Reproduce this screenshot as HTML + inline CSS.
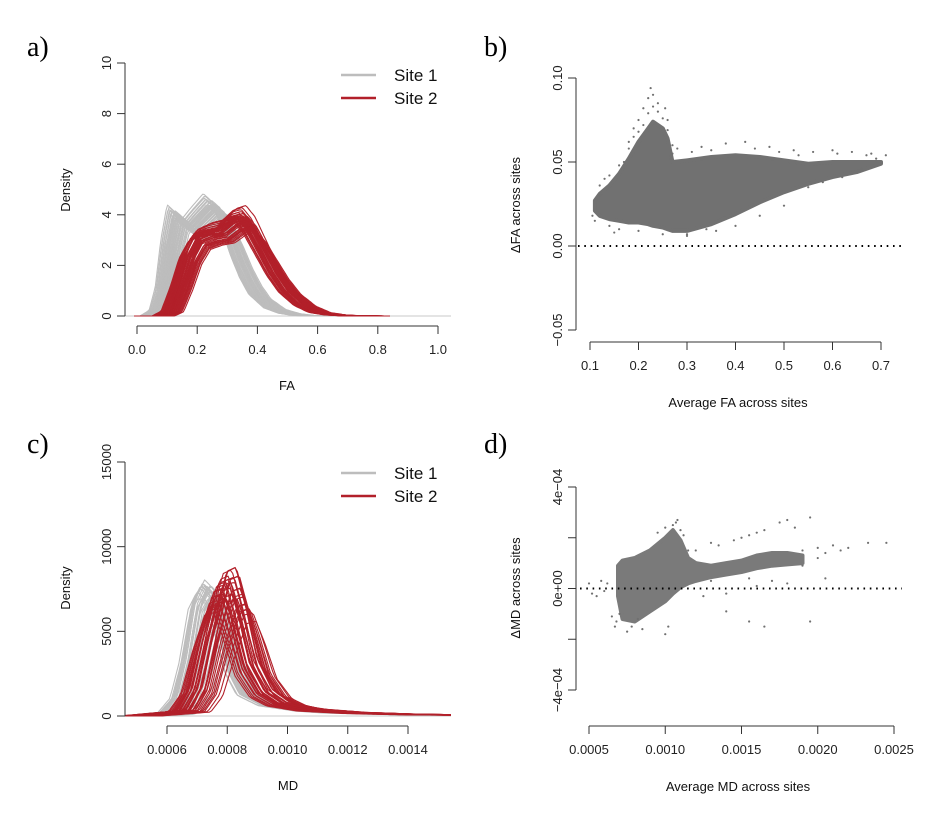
<!DOCTYPE html>
<html><head><meta charset="utf-8"><style>
body{margin:0;background:#fff;}
svg{display:block;font-family:"Liberation Sans",sans-serif;}
.tk{font-size:13px;fill:#222;}
.ttl{font-size:13px;fill:#111;}
.pl{font-family:"Liberation Serif",serif;font-size:28px;fill:#000;}
.lg{font-size:17px;fill:#111;}
</style></head><body>
<svg id="fig" width="949" height="816" viewBox="0 0 949 816">
<text class="pl" x="27" y="56">a)</text>
<text class="pl" x="484" y="56">b)</text>
<text class="pl" x="27" y="453">c)</text>
<text class="pl" x="484" y="453">d)</text>
</svg>
<script>
// ---- Panel a data (FA densities) ----
const faSite1X=[0.04,0.07,0.09,0.11,0.13,0.15,0.18,0.21,0.25,0.28,0.31,0.34,0.37,0.40,0.45,0.50,0.55,0.60];
const faSite1Y=[0,0.2,1.0,2.8,4.0,3.8,3.5,3.9,4.4,4.1,3.2,2.2,1.4,0.8,0.3,0.1,0.02,0];
const faSite2X=[0.08,0.11,0.14,0.17,0.20,0.24,0.28,0.32,0.35,0.38,0.42,0.46,0.50,0.55,0.60,0.65,0.70,0.80];
const faSite2Y=[0,0.2,1.2,2.4,3.1,3.3,3.4,3.8,3.9,3.5,2.6,1.7,1.0,0.45,0.15,0.05,0.01,0];
const faShift1=[-0.03,-0.027,-0.025,-0.022,-0.02,-0.018,-0.016,-0.015,-0.013,-0.012,-0.01,-0.009,-0.008,-0.006,-0.005,-0.004,-0.003,-0.002,0,0.001,0.002,0.003,0.004,0.005,0.006,0.007,0.008,0.009,0.01,0.011,0.012,0.013,0.014,0.015,0.016,0.018,0.02,0.022,0.024,0.025,0.027,0.028,0.03,0.032,0.035,0.038,0.04,0.045];
const faScale1=[1.1,1.06,1.08,1.05,1.05,1.0,1.04,1.03,0.99,0.98,1.02,1.0,1.0,0.96,0.97,1.03,1.04,0.98,1.0,1.01,0.95,0.99,0.99,1.0,1.01,0.97,0.96,0.98,1.0,0.95,0.94,0.97,0.96,0.98,0.93,0.93,0.97,0.95,0.92,0.92,0.91,0.94,0.9,0.9,0.88,0.87,0.85,0.84];
const faShift2=[-0.03,-0.027,-0.025,-0.022,-0.02,-0.018,-0.017,-0.015,-0.014,-0.012,-0.011,-0.01,-0.008,-0.007,-0.005,-0.004,-0.003,-0.001,0,0.001,0.002,0.003,0.004,0.005,0.006,0.007,0.008,0.009,0.01,0.011,0.012,0.013,0.015,0.016,0.017,0.018,0.02,0.022,0.023,0.025,0.026,0.028,0.03,0.032,0.035,0.038,0.04,0.045];
const faScale2=[0.95,0.96,0.97,0.99,1.0,1.01,1.02,0.98,1.03,1.05,1.0,1.0,1.03,0.96,0.96,1.08,1.06,1.0,1.1,0.99,1.02,1.04,1.04,0.97,1.0,1.01,0.95,0.98,0.98,0.93,1.12,0.96,0.92,0.94,1.01,0.97,0.95,0.9,0.97,0.88,0.92,0.9,0.9,0.89,0.88,0.87,0.86,0.85];
// ---- Panel c data (MD densities, x in 1e-3, y in 1e3) ----
const mdSite1X=[0.50,0.62,0.66,0.69,0.72,0.75,0.78,0.81,0.84,0.88,0.95,1.05,1.20,1.40,1.60];
const mdSite1Y=[0,0.2,1.0,3.0,6.0,7.0,6.5,4.5,2.5,1.2,0.6,0.35,0.2,0.08,0.04];
const mdSite2X=[0.50,0.665,0.705,0.745,0.785,0.815,0.845,0.885,0.935,0.99,1.09,1.24,1.40,1.60];
const mdSite2Y=[0,0.3,1.5,4.5,7.0,7.2,5.5,2.8,1.3,0.7,0.35,0.18,0.1,0.05];
const mdShift1=[-0.05,-0.045,-0.04,-0.038,-0.035,-0.032,-0.03,-0.027,-0.025,-0.022,-0.02,-0.017,-0.015,-0.012,-0.01,-0.008,-0.005,-0.003,0,0.003,0.005,0.008,0.01,0.015,0.02,0.025,0.03,0.035,0.04,0.05,0.06,0.07];
const mdScale1=[1.05,1.0,1.08,1.1,1.1,1.12,1.12,1.1,1.15,1.05,1.1,1.08,1.08,1.0,1.05,1.1,1.1,1.02,1.0,0.98,1.05,0.95,0.98,1.0,0.95,0.9,0.85,0.8,0.75,0.65,0.55,0.5];
const mdShift2=[-0.06,-0.055,-0.05,-0.045,-0.042,-0.04,-0.037,-0.035,-0.032,-0.03,-0.027,-0.025,-0.022,-0.02,-0.017,-0.015,-0.012,-0.01,-0.007,-0.005,-0.002,0,0.003,0.005,0.008,0.01,0.013,0.015,0.018,0.02,0.023,0.025,0.028,0.03,0.035,0.04,0.045,0.05,0.055,0.06,0.07,0.08];
const mdScale2=[0.85,0.88,0.9,0.95,0.93,0.92,1.0,1.0,1.04,1.05,1.0,1.0,1.08,1.1,0.97,0.95,1.12,1.15,1.06,1.05,1.1,1.2,1.0,1.0,1.14,1.1,1.22,1.22,0.96,0.95,1.15,1.15,1.05,1.05,1.0,0.98,0.92,0.92,0.88,0.88,0.85,0.78];
// ---- Panel b data ----
const bEnvX=[0.11,0.12,0.14,0.16,0.18,0.20,0.22,0.23,0.25,0.26,0.27,0.30,0.35,0.40,0.45,0.50,0.55,0.60,0.65,0.70];
const bEnvHi=[0.027,0.031,0.036,0.043,0.052,0.062,0.07,0.074,0.07,0.064,0.05,0.051,0.053,0.054,0.053,0.051,0.049,0.05,0.05,0.05];
const bEnvLo=[0.021,0.018,0.016,0.015,0.014,0.014,0.013,0.012,0.011,0.01,0.009,0.009,0.013,0.019,0.026,0.032,0.037,0.041,0.044,0.049];
const bPtsX=[0.105,0.11,0.12,0.13,0.14,0.15,0.16,0.17,0.18,0.19,0.2,0.21,0.22,0.225,0.23,0.24,0.255,0.26,0.27,0.28,0.2,0.25,0.3,0.33,0.38,0.42,0.47,0.52,0.56,0.6,0.64,0.68,0.71,0.58,0.62,0.66,0.45,0.5,0.4,0.36,0.19,0.21,0.22,0.24,0.25,0.2,0.23,0.26,0.31,0.35,0.44,0.49,0.53,0.61,0.67,0.69,0.55,0.3,0.34,0.27,0.14,0.12,0.16,0.18];
const bPtsY=[0.018,0.015,0.036,0.04,0.012,0.008,0.01,0.05,0.062,0.07,0.075,0.082,0.088,0.094,0.09,0.085,0.082,0.075,0.06,0.058,0.009,0.007,0.006,0.059,0.061,0.062,0.059,0.057,0.056,0.057,0.056,0.055,0.054,0.038,0.041,0.046,0.018,0.024,0.012,0.009,0.065,0.072,0.079,0.08,0.076,0.068,0.083,0.069,0.056,0.057,0.058,0.056,0.054,0.055,0.054,0.052,0.035,0.007,0.01,0.055,0.042,0.03,0.048,0.058];
// ---- Panel d data (x in 1e-3, y in 1e-4) ----
const dEnvX=[0.69,0.72,0.80,0.90,1.00,1.05,1.10,1.15,1.20,1.30,1.40,1.50,1.60,1.70,1.80,1.90];
const dEnvHi=[0.9,1.1,1.2,1.5,2.0,2.3,1.9,1.2,1.0,0.9,1.0,1.1,1.3,1.4,1.4,1.3];
const dEnvLo=[-0.3,-1.2,-1.3,-0.9,-0.5,-0.2,0.05,0.2,0.3,0.45,0.55,0.65,0.8,0.9,0.95,1.0];
const dPtsX=[0.5,0.52,0.55,0.58,0.6,0.62,0.65,0.67,0.75,0.85,1.0,1.02,1.05,1.08,1.1,1.15,1.2,1.3,1.35,1.4,1.45,1.5,1.55,1.6,1.65,1.55,1.65,1.75,1.8,1.85,1.95,1.95,1.9,2.0,2.05,2.1,2.15,2.2,2.33,2.45,2.05,1.7,1.8,1.6,1.3,1.9,2.0,0.95,1.0,1.07,1.12,0.78,0.82,0.68,0.7,1.25,1.4,1.55];
const dPtsY=[0.2,-0.2,-0.3,0.3,-0.1,0.2,-1.1,-1.5,-1.7,-1.6,-1.8,-1.5,2.5,2.7,2.3,1.5,1.5,1.8,1.7,-0.9,1.9,2.0,2.1,2.2,2.3,-1.3,-1.5,2.6,2.7,2.4,2.8,-1.3,1.5,1.6,1.4,1.7,1.5,1.6,1.8,1.8,0.4,0.3,0.2,0.1,0.3,0.9,1.2,2.2,2.4,2.6,2.1,-1.5,-1.2,-1.3,-1.0,-0.3,-0.2,0.4];

const NS="http://www.w3.org/2000/svg";
const svg=document.getElementById('fig');
function el(tag,attrs,parent){const e=document.createElementNS(NS,tag);for(const k in attrs)e.setAttribute(k,attrs[k]);(parent||svg).appendChild(e);return e;}
function lin(d0,d1,r0,r1){return v=>r0+(v-d0)*(r1-r0)/(d1-d0);}
function interp(xs,ys,x){if(x<=xs[0])return ys[0];if(x>=xs[xs.length-1])return ys[ys.length-1];for(let i=1;i<xs.length;i++){if(x<=xs[i]){const t=(x-xs[i-1])/(xs[i]-xs[i-1]);return ys[i-1]+t*(ys[i]-ys[i-1]);}}}
function yAxis(g,x,ticks,sy,labels,name){
  const a=el('line',{x1:x,x2:x,y1:sy(ticks[ticks.length-1]),y2:sy(ticks[0]),stroke:'#333','stroke-width':1},g);
  
  ticks.forEach((t,i)=>{el('line',{x1:x-8,x2:x,y1:sy(t),y2:sy(t),stroke:'#333'},g);
    if(labels[i]!==''){const tx=el('text',{class:'tk',x:x-14,y:sy(t),'text-anchor':'middle',transform:`rotate(-90 ${x-14} ${sy(t)})`},g);tx.textContent=labels[i];
    }});
}
function xAxis(g,y,ticks,sx,labels,name){
  const a=el('line',{x1:sx(ticks[0]),x2:sx(ticks[ticks.length-1]),y1:y,y2:y,stroke:'#333'},g);
  
  ticks.forEach((t,i)=>{el('line',{x1:sx(t),x2:sx(t),y1:y,y2:y+8,stroke:'#333'},g);
    const tx=el('text',{class:'tk',x:sx(t),y:y+28,'text-anchor':'middle'},g);tx.textContent=labels[i];
    });
}
function title(g,x,y,txt,rot,name){const t=el('text',{class:'ttl',x:x,y:y,'text-anchor':'middle'},g);if(rot)t.setAttribute('transform',`rotate(-90 ${x} ${y})`);t.textContent=txt;}
function curves(g,xs,ys,shifts,scales,sx,sy,x0,x1,color,name){
  shifts.forEach((s,i)=>{let d='';const N=140;for(let k=0;k<=N;k++){const x=x0+(x1-x0)*k/N;const y=interp(xs,ys,x-s)*scales[i];d+=(k?'L':'M')+sx(x).toFixed(1)+' '+sy(y).toFixed(1);}
    const p=el('path',{d:d,fill:'none',stroke:color,'stroke-width':1.1,'stroke-linejoin':'round'},g);});
}
function legend(g,x,y,name){
  [['Site 1','#bdbdbd'],['Site 2','#b2202a']].forEach((it,i)=>{const yy=y+i*23;
    el('line',{x1:x,x2:x+35,y1:yy,y2:yy,stroke:it[1],'stroke-width':2.5},g);
    const t=el('text',{class:'lg',x:x+53,y:yy+6},g);t.textContent=it[0];});
}
function clip(id,x,y,w,h){const c=el('clipPath',{id:id});el('rect',{x:x,y:y,width:w,height:h},c);}

// Panel a
(function(){const g=el('g',{});
 const sx=lin(0,1,137,438),sy=lin(0,10,316,63);
 el('line',{x1:125,x2:451,y1:316,y2:316,stroke:'#c8c8c8'},g);
 clip('ca',125,55,326,262);const cg=el('g',{'clip-path':'url(#ca)'},g);
 curves(cg,faSite1X,faSite1Y,faShift1,faScale1,sx,sy,-0.01,0.7,'#bdbdbd','fa-site1-curve');
 curves(cg,faSite2X,faSite2Y,faShift2,faScale2,sx,sy,-0.01,0.84,'#b2202a','fa-site2-curve');
 yAxis(g,125,[0,2,4,6,8,10],sy,['0','2','4','6','8','10'],'a-y-axis');
 xAxis(g,326,[0,0.2,0.4,0.6,0.8,1.0],sx,['0.0','0.2','0.4','0.6','0.8','1.0'],'a-x-axis');
 title(g,70,190,'Density',true,'a-y-axis-title');title(g,287,390,'FA',false,'a-x-axis-title');
 legend(g,341,75,'a-legend');})();

// Panel c
(function(){const g=el('g',{});
 const sx=lin(0.6,1.4,167,408),sy=lin(0,15,716,462);
 el('line',{x1:125,x2:451,y1:716,y2:716,stroke:'#c8c8c8'},g);
 clip('cc',125,455,326,262);const cg=el('g',{'clip-path':'url(#cc)'},g);
 curves(cg,mdSite1X,mdSite1Y,mdShift1,mdScale1,sx,sy,0.46,1.55,'#bdbdbd','md-site1-curve');
 curves(cg,mdSite2X,mdSite2Y,mdShift2,mdScale2,sx,sy,0.46,1.55,'#b2202a','md-site2-curve');
 yAxis(g,125,[0,5,10,15],sy,['0','5000','10000','15000'],'c-y-axis');
 xAxis(g,726,[0.6,0.8,1.0,1.2,1.4],sx,['0.0006','0.0008','0.0010','0.0012','0.0014'],'c-x-axis');
 title(g,70,588,'Density',true,'c-y-axis-title');title(g,288,790,'MD',false,'c-x-axis-title');
 legend(g,341,473,'c-legend');})();

function scatter(g,ex,hi,lo,px,py,sx,sy,fill,name){
 let d='';ex.forEach((x,i)=>{d+=(i?'L':'M')+sx(x).toFixed(1)+' '+sy(hi[i]).toFixed(1);});
 for(let i=ex.length-1;i>=0;i--)d+='L'+sx(ex[i]).toFixed(1)+' '+sy(lo[i]).toFixed(1);d+='Z';
 const p=el('path',{d:d,fill:fill,stroke:fill,'stroke-width':4,'stroke-linejoin':'round'},g);
 px.forEach((x,i)=>{const c=el('circle',{cx:sx(x),cy:sy(py[i]),r:1.1,fill:'#707070'},g);});
}
function dotted(g,x0,x1,y){el('line',{x1:x0,x2:x1,y1:y,y2:y,stroke:'#000','stroke-width':2,'stroke-dasharray':'1.6 4.7'},g);}

// Panel b
(function(){const g=el('g',{});
 const sx=lin(0.1,0.7,590,881),sy=lin(-0.05,0.1,330,78);
 scatter(g,bEnvX,bEnvHi,bEnvLo,bPtsX,bPtsY,sx,sy,'#717171','b-scatter');
 dotted(g,578,902,sy(0));
 yAxis(g,576,[-0.05,0,0.05,0.1],sy,['−0.05','0.00','0.05','0.10'],'b-y-axis');
 xAxis(g,342,[0.1,0.2,0.3,0.4,0.5,0.6,0.7],sx,['0.1','0.2','0.3','0.4','0.5','0.6','0.7'],'b-x-axis');
 title(g,520,205,'ΔFA across sites',true,'b-y-axis-title');title(g,738,407,'Average FA across sites',false,'b-x-axis-title');})();

// Panel d
(function(){const g=el('g',{});
 const sx=lin(0.5,2.5,589,894),sy=lin(-4,4,690,487);
 scatter(g,dEnvX,dEnvHi,dEnvLo,dPtsX,dPtsY,sx,sy,'#7a7a7a','d-scatter');
 dotted(g,580,902,sy(0));
 yAxis(g,576,[-4,-2,0,2,4],sy,['−4e−04','','0e+00','','4e−04'],'d-y-axis');
 xAxis(g,726,[0.5,1.0,1.5,2.0,2.5],sx,['0.0005','0.0010','0.0015','0.0020','0.0025'],'d-x-axis');
 title(g,520,588,'ΔMD across sites',true,'d-y-axis-title');title(g,738,791,'Average MD across sites',false,'d-x-axis-title');})();
</script>
</body></html>
